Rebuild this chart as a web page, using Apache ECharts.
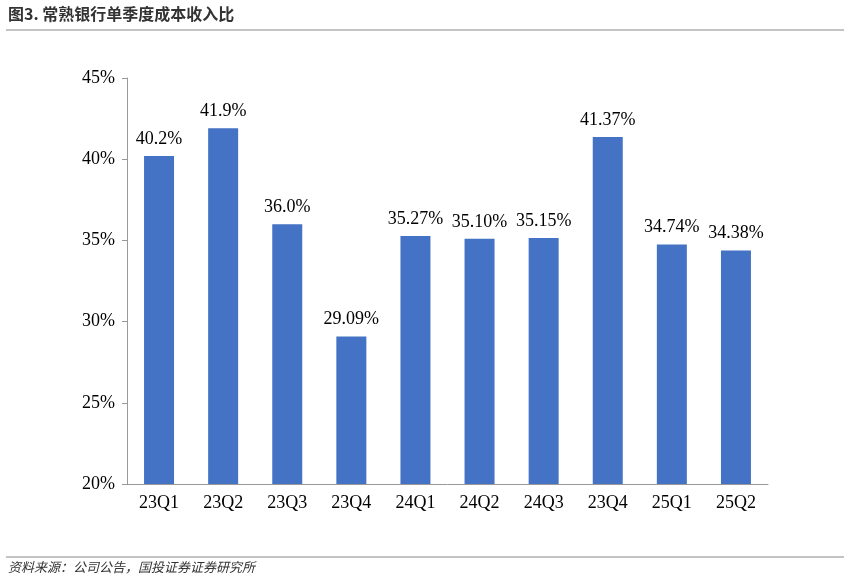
<!DOCTYPE html>
<html><head><meta charset="utf-8">
<script src="https://cdn.jsdelivr.net/npm/echarts@6/dist/echarts.min.js"></script>
<style>html,body{margin:0;padding:0;background:#fff}#c{width:850px;height:582px}</style>
</head><body><div id="c"></div>
<script>
const categories = ['23Q1','23Q2','23Q3','23Q4','24Q1','24Q2','24Q3','23Q4','25Q1','25Q2'];
const values = [40.2, 41.9, 36.0, 29.09, 35.27, 35.10, 35.15, 41.37, 34.74, 34.38];
const labels = ['40.2%','41.9%','36.0%','29.09%','35.27%','35.10%','35.15%','41.37%','34.74%','34.38%'];
const chart = echarts.init(document.getElementById('c'));
const serif = 'Liberation Serif, Times New Roman, serif';
chart.setOption({
  animation:false,
  graphic:[
    {type:'text',left:8,top:6,style:{text:'图3. 常熟银行单季度成本收入比',font:'bold 16px "Noto Sans CJK SC"',fill:'#333'}},
    {type:'line',shape:{x1:6,y1:30,x2:844,y2:30},style:{stroke:'#888',lineWidth:1}},
    {type:'line',shape:{x1:6,y1:557,x2:844,y2:557},style:{stroke:'#888',lineWidth:1}},
    {type:'text',left:8,top:561,style:{text:'资料来源：公司公告，国投证券证券研究所',font:'italic 13px "Noto Sans CJK SC"',fill:'#333'}}
  ],
  grid:{left:127,right:82,top:78,bottom:98},
  xAxis:{type:'category',data:categories,
    axisLine:{lineStyle:{color:'#999'}},axisTick:{show:false},
    axisLabel:{fontFamily:serif,fontSize:18,color:'#000',margin:10}},
  yAxis:{type:'value',min:20,max:45,interval:5,
    axisLine:{show:true,lineStyle:{color:'#999'}},axisTick:{show:true,lineStyle:{color:'#999'}},
    splitLine:{show:false},
    axisLabel:{formatter:'{value}%',fontFamily:serif,fontSize:18,color:'#000',margin:12}},
  series:[{type:'bar',data:values,barWidth:30,itemStyle:{color:'#4472C4'},
    label:{show:true,position:'top',distance:8,fontFamily:serif,fontSize:18,color:'#000',
      formatter:p=>labels[p.dataIndex]}}]
});
</script></body></html>
